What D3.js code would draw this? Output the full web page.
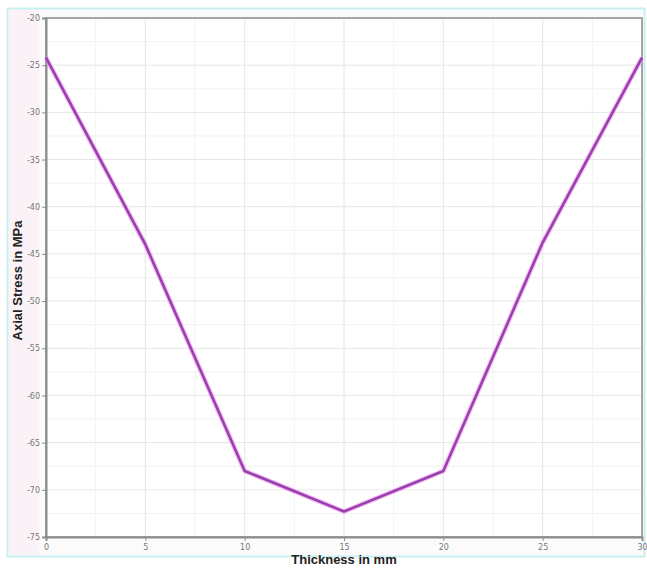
<!DOCTYPE html>
<html><head><meta charset="utf-8">
<script src="https://cdn.jsdelivr.net/npm/d3@7"></script>
<style>body{margin:0;background:#fff;} svg{display:block;}</style>
</head><body>
<svg id="c" width="647" height="570"></svg>
<script>
const thickness = [0, 5, 10, 15, 20, 25, 30];
const stress = [-24.2, -44.0, -68.0, -72.3, -68.0, -43.8, -24.2];
const xTicks = [0, 5, 10, 15, 20, 25, 30];
const yTicks = [-20, -25, -30, -35, -40, -45, -50, -55, -60, -65, -70, -75];

const svg = d3.select("#c");
const W = 647, H = 570;
const m = {l: 46, r: 642, t: 18, b: 537};

// outer frame
svg.append("rect").attr("x",0).attr("y",0).attr("width",W).attr("height",H).attr("fill","#ffffff");
svg.append("rect").attr("x",7.5).attr("y",8.5).attr("width",W-10).attr("height",548).attr("fill","#fcfbfc").attr("stroke","#c8f0f0").attr("stroke-width",2);
svg.append("rect").attr("x",9).attr("y",10).attr("width",30).attr("height",545).attr("fill","#faf2f6");

const x = d3.scaleLinear().domain([0,30]).range([m.l,m.r]);
const y = d3.scaleLinear().domain([-20,-75]).range([m.t,m.b]);

svg.append("rect").attr("x",m.l).attr("y",m.t).attr("width",m.r-m.l).attr("height",m.b-m.t).attr("fill","#ffffff");

// minor grid
const g = svg.append("g");
g.selectAll("line.mx").data(d3.range(2.5,30,5)).join("line")
  .attr("x1",d=>x(d)).attr("x2",d=>x(d)).attr("y1",m.t).attr("y2",m.b)
  .attr("stroke","#f2f2f2").attr("stroke-width",1);
g.selectAll("line.my").data(d3.range(-22.5,-75,-5)).join("line")
  .attr("y1",d=>y(d)).attr("y2",d=>y(d)).attr("x1",m.l).attr("x2",m.r)
  .attr("stroke","#f2f2f2").attr("stroke-width",1);
// major grid
g.selectAll("line.Mx").data(xTicks).join("line")
  .attr("x1",d=>x(d)).attr("x2",d=>x(d)).attr("y1",m.t).attr("y2",m.b)
  .attr("stroke","#e6e6e6").attr("stroke-width",1);
g.selectAll("line.My").data(yTicks).join("line")
  .attr("y1",d=>y(d)).attr("y2",d=>y(d)).attr("x1",m.l).attr("x2",m.r)
  .attr("stroke","#e6e6e6").attr("stroke-width",1);

// border
svg.append("rect").attr("x",m.l).attr("y",m.t).attr("width",m.r-m.l).attr("height",m.b-m.t)
  .attr("fill","none").attr("stroke","#8c8c8c").attr("stroke-width",1.5);

// axes
const xa = svg.append("g").attr("transform",`translate(0,${m.b})`)
  .call(d3.axisBottom(x).tickValues(xTicks).tickSize(4).tickPadding(3).tickFormat(d3.format("d")));
const ya = svg.append("g").attr("transform",`translate(${m.l},0)`)
  .call(d3.axisLeft(y).tickValues(yTicks).tickSize(4).tickPadding(2).tickFormat(d=>String(d)));
[xa,ya].forEach(a=>{
  a.select(".domain").attr("stroke","#8c8c8c").attr("stroke-width",2);
  a.selectAll(".tick line").attr("stroke","#8c8c8c");
  a.selectAll("text").attr("fill","#777").style("font-family","DejaVu Sans").style("font-size","8px");
});

// line
const line = d3.line().x((d,i)=>x(thickness[i])).y(d=>y(d));
svg.append("path").datum(stress).attr("d",line).attr("fill","none")
  .attr("stroke","#f08cf0").attr("stroke-width",5).attr("stroke-opacity",0.55).attr("stroke-linejoin","round");
svg.append("path").datum(stress).attr("d",line).attr("fill","none")
  .attr("stroke","#9a40ae").attr("stroke-width",2.6).attr("stroke-linejoin","round");

// titles
svg.append("text").attr("x",(m.l+m.r)/2).attr("y",564).attr("text-anchor","middle")
  .style("font-family","Liberation Sans, Arial").style("font-weight","bold").style("font-size","13px").attr("fill","#222")
  .text("Thickness in mm");
svg.append("text").attr("transform",`translate(22,${(m.t+m.b)/2+3}) rotate(-90)`).attr("text-anchor","middle")
  .style("font-family","Liberation Sans, Arial").style("font-weight","bold").style("font-size","13px").attr("fill","#222")
  .text("Axial Stress in MPa");
</script>
</body></html>
